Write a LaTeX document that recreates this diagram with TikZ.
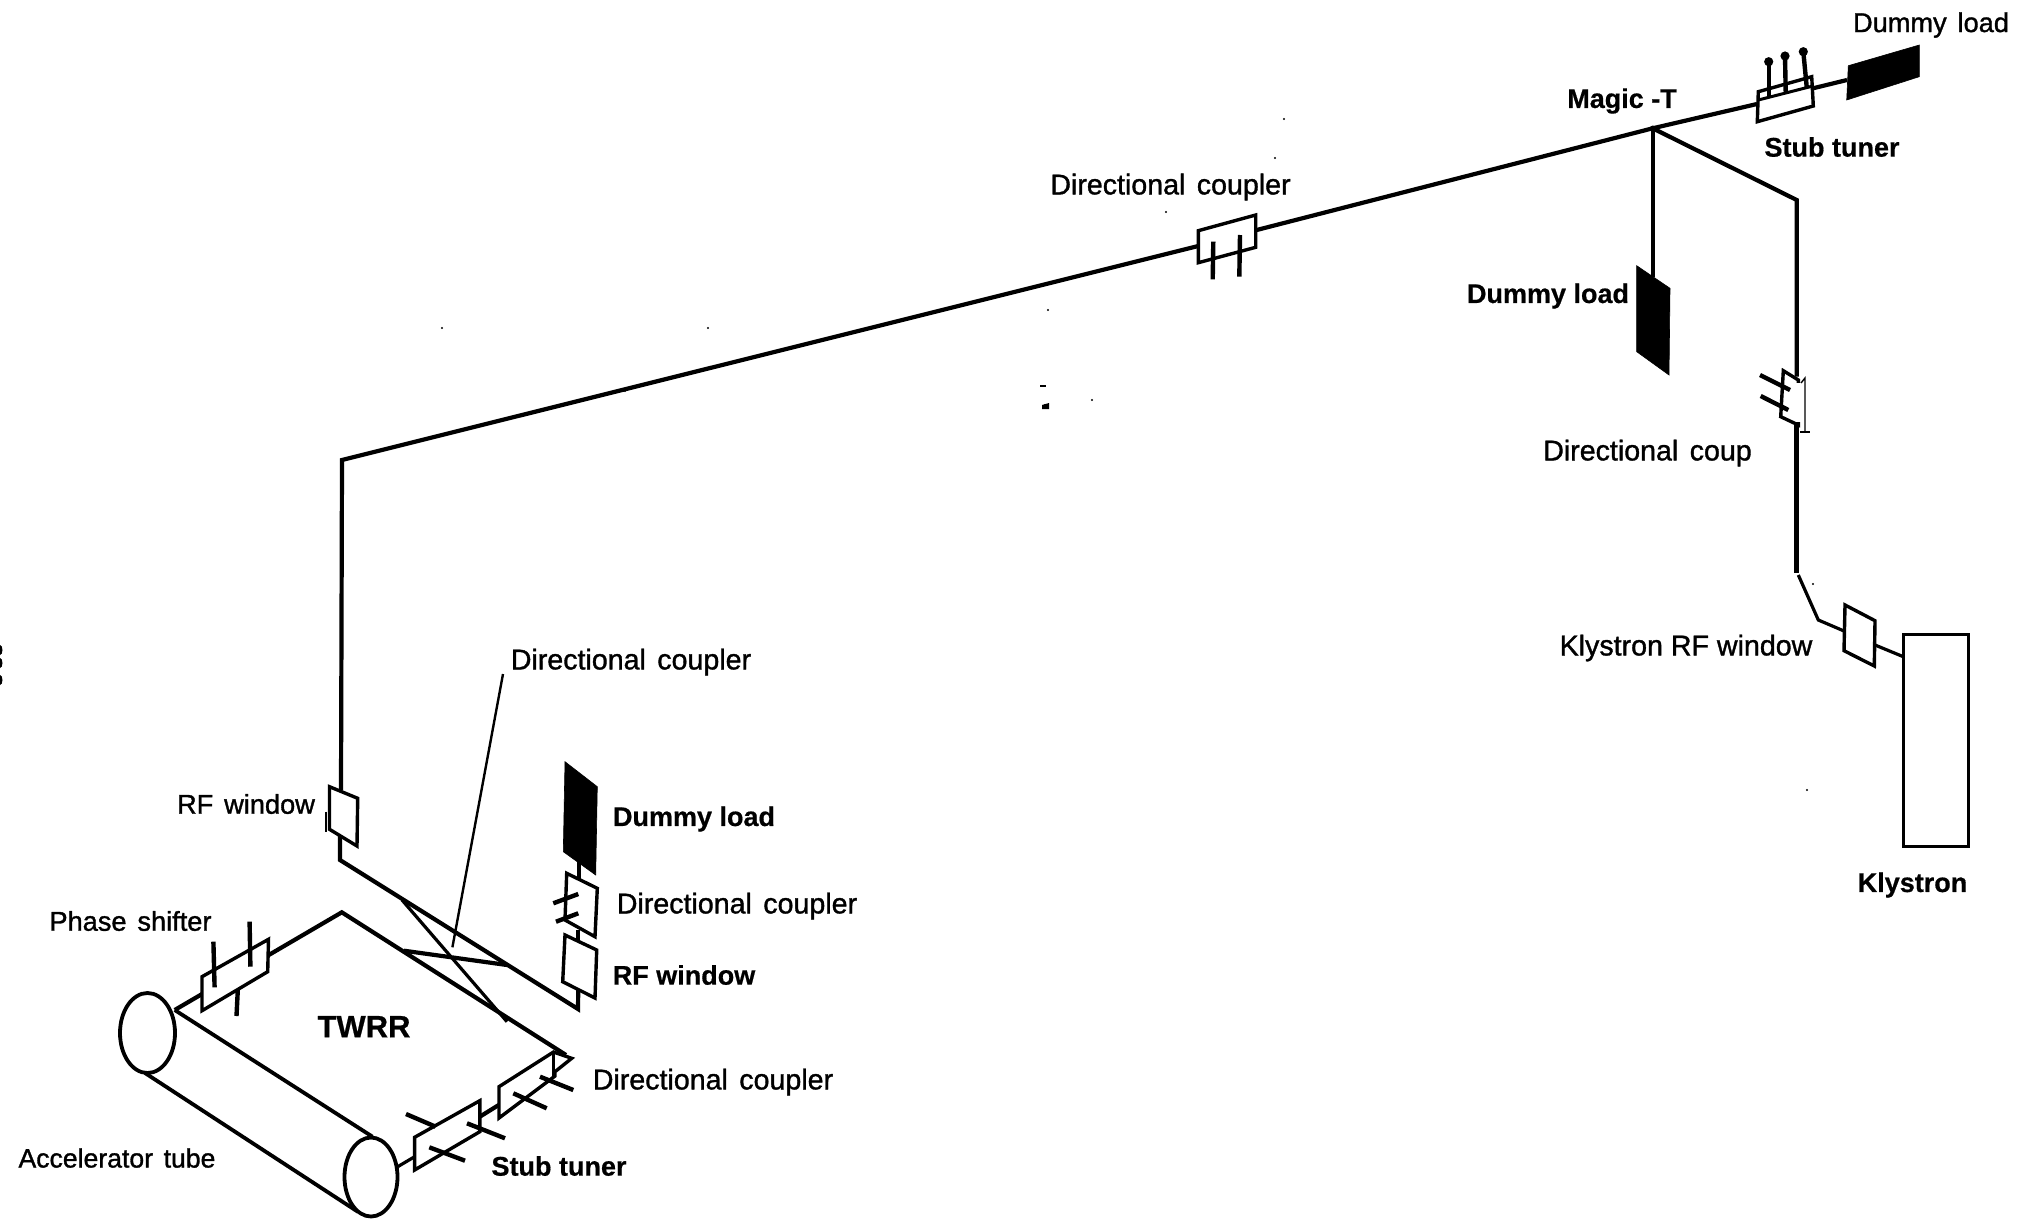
\documentclass[tikz,border=0pt]{standalone}
\usepackage{fontspec}
\setmainfont{Liberation Sans}
\newfontfamily\labfont[FakeBold=1.2]{Liberation Sans}
\newfontfamily\heavyfont[BoldFeatures={FakeBold=0.6}]{Liberation Sans}
\tikzset{
  pipe/.style={draw=black,line width=4.2pt,line join=miter},
  pipethin/.style={draw=black,line width=3.2pt},
  boxline/.style={draw=black,line width=3.4pt,line join=miter,fill=white},
  stub/.style={draw=black,line width=4.4pt},
  load/.style={fill=black,draw=black,line width=.6pt},
  leader/.style={draw=black,line width=2.4pt},
  tube/.style={draw=black,line width=3.8pt},
  lab/.style={inner sep=0pt,anchor=center,font=\fontsize{28.6}{30}\labfont},
  labs/.style={inner sep=0pt,anchor=center,font=\fontsize{27.2}{30}\labfont},
  labb/.style={inner sep=0pt,anchor=center,font=\fontsize{27}{30}\heavyfont\bfseries},
  speck/.style={fill=black,draw=none}
}
\newcommand{\dsp}{\hspace{.4em}}
\begin{document}
\begin{tikzpicture}[x=1pt,y=-1pt]
\useasboundingbox (0,0) rectangle (2034,1218);
% --- key junctions
\coordinate (magicT) at (1652.7,128.3);
\coordinate (corner) at (342,460);
\coordinate (wintop) at (341,790);
\coordinate (winbot) at (340,835);
\coordinate (bend1) at (340,860);
\coordinate (bend2) at (578,1009);
\coordinate (apex) at (341.8,912.3);
\coordinate (tubeA) at (174.7,1010);
\coordinate (tubeB) at (372.5,1136.7);
\coordinate (tubeC) at (145,1073);
\coordinate (tubeD) at (357.8,1211.7);
\coordinate (dcfar) at (566,1055);
\coordinate (crossA) at (402,900);
\coordinate (crossB) at (507,1021.7);
\coordinate (crossC) at (404,950.7);
\coordinate (crossD) at (507,965);
\coordinate (leadA) at (503,674);
\coordinate (leadB) at (452.4,947.3);
\coordinate (branch) at (1796.7,200);
\coordinate (kbreak) at (1796.5,573);
\coordinate (kA) at (1798.3,575);
\coordinate (kB) at (1818.3,620);
\coordinate (kC) at (1844,631);
\coordinate (kD) at (1875,645);
\coordinate (kE) at (1903.3,656.7);
% --- main waveguide
\draw[pipe] (magicT) -- (1757,104);
\draw[pipe] (1813,88.3) -- (1847,80);
\draw[pipe] (magicT) -- (1256.7,230);
\draw[pipe] (1198.3,246) -- (corner) -- (wintop);
\draw[pipe] (winbot) -- (bend1) -- (bend2) -- (578.3,985);
\draw[pipe] (magicT) -- (1652.7,276.7);
\draw[pipe] (magicT) -- (branch) -- (1796.7,376.7);
\draw[pipe] (1796.5,425) -- (kbreak);
\draw[pipethin] (kA) -- (kB) -- (kC);
\draw[pipethin] (kD) -- (kE);
% --- TWRR loop
\draw[pipe] (tubeA) -- (apex) -- (dcfar);
\draw[pipethin] (crossA) -- (crossB);
\draw[pipe] (crossC) -- (crossD);
\draw[leader] (leadA) -- (leadB);
% --- accelerator tube
\draw[tube] (tubeA) -- (tubeB);
\draw[tube] (tubeC) -- (tubeD);
\draw[tube,fill=white] (147.5,1033) ellipse [x radius=27.5,y radius=40];
\draw[tube,fill=white] (371,1177) ellipse [x radius=26.5,y radius=39.5];
% --- phase shifter
\draw[boxline] (202,976.7) -- (268.5,939.3) -- (267.7,971.7) -- (202,1010.7) -- cycle;
\draw[stub] (213.4,941.7) -- (214.6,987.3);
\draw[stub] (249.6,921.7) -- (250.4,966.7);
\draw[stub] (237.8,990) -- (236.5,1016);
% --- RF window (left)
\draw[boxline] (329.5,786.7) -- (357.7,798.3) -- (357,846) -- (329.5,829.3) -- cycle;
\draw[draw=black,line width=1.6pt] (326,811.7) -- (326,831.7);
% --- load chain (left)
\draw[pipe] (579.3,861) -- (579.3,880);
\draw[pipe] (578.3,930) -- (578.3,941);
\draw[load] (565,761.7) -- (597.3,786.7) -- (595.7,875) -- (563.3,851.7) -- cycle;
\draw[boxline] (566.7,873.3) -- (597.3,888.3) -- (595,936.7) -- (565,920) -- cycle;
\draw[stub] (553.3,903.3) -- (578.3,894);
\draw[stub] (556,921.7) -- (578.3,913.3);
\draw[boxline] (565,935) -- (596.7,950) -- (595,998) -- (562.7,981.7) -- cycle;
% --- directional coupler (lower right of loop)
\draw[pipe] (479.8,1116.7) -- (498.7,1105);
\draw[boxline] (499,1086.7) -- (553.5,1052) -- (571.7,1058.3) -- (555,1071.7) -- (555,1076) -- (499,1118) -- cycle;
\draw[draw=black,line width=3pt] (553.5,1052) -- (553.5,1078);
\draw[stub] (540,1076.7) -- (573.3,1090);
\draw[stub] (513.3,1093.3) -- (546.7,1108.3);
% --- stub tuner (bottom)
\draw[pipethin] (397.7,1166.7) -- (414.6,1156.7);
\draw[boxline] (414.6,1137.3) -- (479.8,1100.7) -- (479.8,1131.7) -- (414.6,1170) -- cycle;
\draw[stub] (406,1114) -- (435.6,1126.7);
\draw[stub] (467,1123.3) -- (505,1138.3);
\draw[stub] (429.3,1147.3) -- (465,1160.7);
% --- directional coupler (upper line)
\draw[boxline] (1198.3,230.7) -- (1255.7,215) -- (1255.7,247.3) -- (1198.3,262.7) -- cycle;
\draw[stub] (1213.3,241.7) -- (1212.7,279.3);
\draw[stub] (1240,235) -- (1239.3,276.7);
% --- stub tuner (top)
\draw[boxline] (1758.3,91.7) -- (1811.7,76.7) -- (1813.3,106) -- (1757.3,121.7) -- cycle;
\draw[draw=black,line width=3pt] (1758.3,100) -- (1813,86);
\draw[stub] (1768.7,61.7) -- (1768.7,97);
\draw[stub] (1785,56) -- (1785.7,92);
\draw[stub] (1803.3,51.7) -- (1806.7,87);
\fill (1768.7,61.7) circle (4.6pt);
\fill (1785,56) circle (4.6pt);
\fill (1803.3,51.7) circle (4.6pt);
\fill (magicT) circle (2.8pt);
% --- dummy loads
\draw[load] (1848.3,65.7) -- (1919.3,45) -- (1919.3,76.7) -- (1846.7,100) -- cycle;
\draw[load] (1636.7,265.7) -- (1670,288.3) -- (1669,375) -- (1636.7,351.7) -- cycle;
% --- directional coupler (klystron line)
\draw[draw=black,line width=3.4pt,line join=miter,fill=white] (1783.3,370.7) -- (1798.3,380) -- (1798.3,425) -- (1780.7,416.7) -- cycle;
\draw[white,line width=5pt] (1798.3,383) -- (1798.3,422);
\draw[stub] (1760,375) -- (1790,390);
\draw[stub] (1760.7,396) -- (1788.3,410);
\draw[draw=black,line width=1.4pt] (1801,383) -- (1805,378) -- (1805,432);
\draw[draw=black,line width=1.4pt] (1800,432) -- (1810,432);
% --- klystron window and klystron
\draw[boxline] (1845,605) -- (1875,620.7) -- (1874.3,666) -- (1844,650.7) -- cycle;
\draw[draw=black,line width=3.4pt,fill=white] (1903.3,634.3) rectangle (1968.3,846.7);
% --- labels
\node[labs] (dl1) at (1931,25) {Dummy\dsp load};
\node[labb] (mt) at (1622,101) {Magic -T};
\node[labb] (st1) at (1832,147) {Stub tuner};
\node[labb] (dl2) at (1548,296) {Dummy load};
\node[lab] (dc1) at (1170.5,187) {Directional\dsp coupler};
\node[lab] (dc2) at (1647.5,453) {Directional\dsp coup};
\node[lab] (krf) at (1686,648) {Klystron RF window};
\node[labb] (kl) at (1912.5,885) {Klystron};
\node[lab] (dc3) at (631,662) {Directional\dsp coupler};
\node[labs] (rf1) at (246,804) {RF\dsp window};
\node[labb] (dl3) at (694,819) {Dummy load};
\node[lab] (dc4) at (737,906) {Directional\dsp coupler};
\node[labb] (rf2) at (684,975) {RF window};
\node[lab] (dc5) at (713,1082) {Directional\dsp coupler};
\node[labb] (st2) at (559,1166) {Stub tuner};
\node[labs] (ps) at (130.5,921) {Phase\dsp shifter};
\node[inner sep=0pt,font=\fontsize{26.6}{28}\labfont] (at) at (117,1158) {Accelerator\dsp tube};
\node[inner sep=0pt,font=\fontsize{31}{33}\heavyfont\bfseries] (tw) at (364,1026.7) {TWRR};
% --- specks of the scan
\foreach \p in {(1284,119),(1275,158),(1166,212),(1048,310),(442,328),(708,328),(625,391),(1045,405),(1092,400),(1813,584),(1807,790)}
  \fill[speck] \p circle (1.2pt);
\fill[speck] (1040,385) rectangle (1046,387);
\fill[speck] (1042,405) -- (1049,403) -- (1049,409) -- (1042,409) -- cycle;
% --- clipped marks at the left edge
\foreach \yy in {650,663,680}
  \fill[speck] (0,\yy) ellipse [x radius=2.5,y radius=5];
\end{tikzpicture}
\end{document}
